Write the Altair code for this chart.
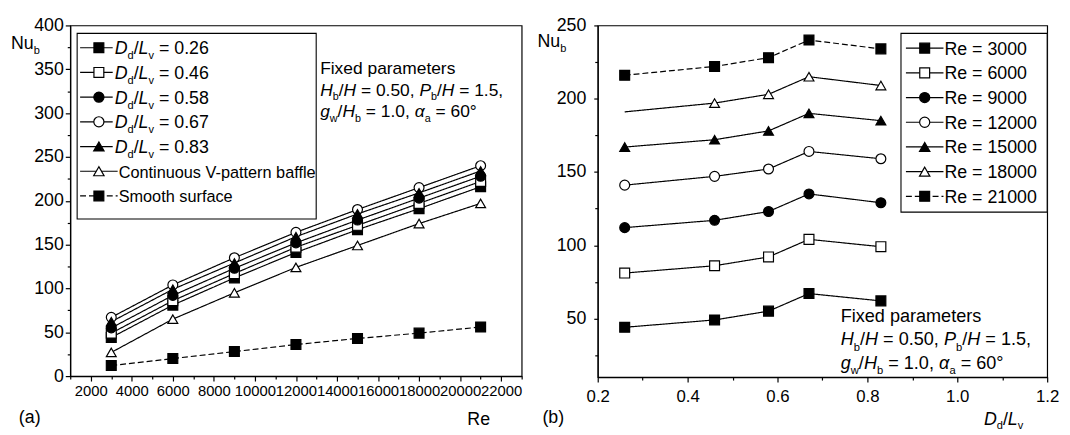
import altair as alt
import pandas as pd

FONT = "Liberation Sans"

# ---------------- data ----------------
re_values = [3000, 6000, 9000, 12000, 15000, 18000, 21000]
ddlv_values = [0.26, 0.46, 0.58, 0.67, 0.83]
ddlv_labels = ["0.26", "0.46", "0.58", "0.67", "0.83"]

# Nu_b versus Dd/Lv, one list per Reynolds number
nu_re3000 = [44, 49, 55, 67, 62]
nu_re6000 = [81, 86, 92, 104, 99]
nu_re9000 = [112, 117, 123, 135, 129]
nu_re12000 = [141, 147, 152, 164, 159]
nu_re15000 = [167, 172, 178, 190, 185]
nu_re18000 = [191, 197, 203, 215, 209]
nu_re21000 = [216, 222, 228, 240, 234]
re18000_marker_shown = [False, True, True, True, True]

continuous_vbaffle = [27, 65, 95, 124, 149, 174, 197]
smooth_surface = [12, 20, 28, 36, 43, 49, 56]

by_re = [nu_re3000, nu_re6000, nu_re9000, nu_re12000, nu_re15000, nu_re18000, nu_re21000]

# ---------------- styling tables ----------------
W = {' ': .278, '=': .584, '.': .278, ',': .278, '/': .278, '°': .4, '(': .333, ')': .333, '-': .333,
     'α': .58,
     'A': .667, 'B': .667, 'C': .722, 'D': .722, 'E': .667, 'F': .611, 'G': .778, 'H': .722, 'I': .278,
     'J': .5, 'K': .667, 'L': .556, 'M': .833, 'N': .722, 'O': .778, 'P': .667, 'Q': .778, 'R': .722,
     'S': .667, 'T': .611, 'U': .722, 'V': .667, 'W': .944, 'X': .667, 'Y': .667, 'Z': .611,
     'a': .556, 'b': .556, 'c': .5, 'd': .556, 'e': .556, 'f': .278, 'g': .556, 'h': .556, 'i': .222,
     'j': .222, 'k': .5, 'l': .222, 'm': .833, 'n': .556, 'o': .556, 'p': .556, 'q': .556, 'r': .333,
     's': .5, 't': .278, 'u': .556, 'v': .5, 'w': .722, 'x': .5, 'y': .5, 'z': .5}


def tw(s, size):
    return sum(W.get(c, 0.556) for c in s) * size


ANCHOR = pd.DataFrame({"a": [0]})


def rich(segs, x, y, size):
    layers = []
    cx = x
    for text, kind in segs:
        if kind == 's':
            fs = size * 0.62
            yy = y + size * 0.28
            style = 'normal'
        else:
            fs = size
            yy = y
            style = 'italic' if kind == 'i' else 'normal'
        stripped = text.lstrip(' ')
        cx += tw(text[:len(text) - len(stripped)], fs)
        if stripped:
            layers.append(
                alt.Chart(ANCHOR).mark_text(text=stripped, align='left', baseline='alphabetic', font=FONT,
                                            fontSize=fs, fontStyle=style, color='black')
                .encode(x=alt.value(cx), y=alt.value(yy)))
        cx += tw(stripped, fs)
    return layers


MSIZE = {'square': 100, 'circle': 105, 'triangle-up': 110}


def legend_row(x1, x2, xm, xt, yc, shape, fill, dash, segs, size):
    layers = [
        alt.Chart(ANCHOR).mark_rule(color='black', strokeWidth=1.2, strokeDash=dash)
        .encode(x=alt.value(x1), x2=alt.value(x2), y=alt.value(yc)),
        alt.Chart(ANCHOR).mark_point(shape=shape, filled=True, fill=fill, stroke='black', strokeWidth=1.2,
                                     size=MSIZE[shape], opacity=1)
        .encode(x=alt.value(xm), y=alt.value(yc)),
    ]
    layers += rich(segs, xt, yc + 6.5, size)
    return layers


def box(x1, x2, y1, y2):
    return alt.Chart(ANCHOR).mark_rect(fill='white', stroke='black', strokeWidth=1.1).encode(
        x=alt.value(x1), x2=alt.value(x2), y=alt.value(y1), y2=alt.value(y2))


SHAPES = ['square', 'square', 'circle', 'circle', 'triangle-up', 'triangle-up', 'square']
FILLS = ['black', 'white', 'black', 'white', 'black', 'white', 'black']
DASHES = [[1, 0]] * 6 + [[6, 3]]
SOLID = [1, 0]
DASHED = [6, 3]
SHAPE_SIZES = [MSIZE[s] for s in SHAPES]

LEG = 18
ANN = 18.3

fixed_lines = [
    [("Fixed parameters", 'n')],
    [("H", 'i'), ("b", 's'), ("/", 'n'), ("H", 'i'), (" = 0.50, ", 'n'), ("P", 'i'), ("b", 's'), ("/", 'n'),
     ("H", 'i'), (" = 1.5,", 'n')],
    [("g", 'i'), ("w", 's'), ("/", 'n'), ("H", 'i'), ("b", 's'), (" = 1.0, ", 'n'), ("α", 'i'), ("a", 's'),
     (" = 60°", 'n')],
]

# ---------------- left panel ----------------
LW, LH = 457, 355
left_names = ddlv_labels + ["cont", "smooth"]
rows = []
for j, name in enumerate(ddlv_labels):
    for i, r in enumerate(re_values):
        rows.append({"series": name, "Re": r, "Nu": by_re[i][j]})
for i, r in enumerate(re_values):
    rows.append({"series": "cont", "Re": r, "Nu": continuous_vbaffle[i]})
    rows.append({"series": "smooth", "Re": r, "Nu": smooth_surface[i]})
ldf = pd.DataFrame(rows)

lx = alt.X("Re:Q", scale=alt.Scale(domain=[1000, 23000], nice=False, zero=False),
           axis=alt.Axis(values=list(range(1000, 23001, 1000)), format="d",
                         labelExpr="datum.value % 2000 === 0 ? datum.label : ''",
                         tickSize={"condition": {"test": "datum.value % 2000 === 0", "value": 5}, "value": 3},
                         labelFontSize=15, labelPadding=3, title=None, labelOverlap=False, labelFlush=False))
ly = alt.Y("Nu:Q", scale=alt.Scale(domain=[0, 400], nice=False),
           axis=alt.Axis(values=list(range(0, 401, 25)),
                         labelExpr="datum.value % 50 === 0 ? datum.label : ''",
                         tickSize={"condition": {"test": "datum.value % 50 === 0", "value": 5}, "value": 3},
                         labelFontSize=18, labelPadding=2, title=None, labelOverlap=False, labelFlush=False))

lbase = alt.Chart(ldf)
l_lines = lbase.mark_line(color='black', strokeWidth=1.2).encode(
    x=lx, y=ly, detail="series:N",
    strokeDash=alt.StrokeDash("series:N", scale=alt.Scale(domain=left_names, range=DASHES), legend=None))
l_points = lbase.mark_point(filled=True, stroke='black', strokeWidth=1.2, opacity=1).encode(
    x=lx, y=ly,
    shape=alt.Shape("series:N", scale=alt.Scale(domain=left_names, range=SHAPES), legend=None),
    fill=alt.Fill("series:N", scale=alt.Scale(domain=left_names, range=FILLS), legend=None),
    size=alt.Size("series:N", scale=alt.Scale(domain=left_names, range=SHAPE_SIZES), legend=None))

l_layers = [l_lines, l_points, box(7, 249, 8, 196)]
for k in range(5):
    l_layers += legend_row(10, 43, 29, 45, 22.6 + 25 * k, SHAPES[k], FILLS[k], SOLID,
                           [("D", 'i'), ("d", 's'), ("/", 'n'), ("L", 'i'), ("v", 's'),
                            (" = " + ddlv_labels[k], 'n')], LEG)
l_layers += legend_row(10, 48, 29, 49, 22.6 + 25 * 5, 'triangle-up', 'white', SOLID,
                       [("Continuous V-pattern baffle", 'n')], 16.5)
l_layers += legend_row(10, 48, 29, 49, 22.6 + 25 * 6, 'square', 'black', DASHED,
                       [("Smooth surface", 'n')], 16.5)
for segs, yb in zip(fixed_lines, [49, 71, 93]):
    l_layers += rich(segs, 253, yb, 17.6)
l_layers += rich([("Nu", 'n'), ("b", 's')], -60, 24, 18)
l_layers += rich([("(a)", 'n')], -52, 402, 18)
l_layers += rich([("Re", 'n')], 402, 405, 18)

left = alt.layer(*l_layers).properties(width=LW, height=LH)

# ---------------- right panel ----------------
RW, RH = 455, 356
right_names = [str(r) for r in re_values]
rows = []
for i, r in enumerate(re_values):
    for j, d in enumerate(ddlv_values):
        shown = re18000_marker_shown[j] if r == 18000 else True
        rows.append({"series": str(r), "D": d, "Nu": by_re[i][j], "shown": shown})
rdf = pd.DataFrame(rows)

rx = alt.X("D:Q", scale=alt.Scale(domain=[0.2, 1.2], nice=False, zero=False),
           axis=alt.Axis(values=[0.2, 0.3, 0.4, 0.5, 0.6, 0.7, 0.8, 0.9, 1.0, 1.1, 1.2], format=".1f",
                         labelExpr="round(datum.value * 10) % 2 === 0 ? datum.label : ''",
                         tickSize={"condition": {"test": "round(datum.value * 10) % 2 === 0", "value": 5},
                                   "value": 3},
                         labelFontSize=17, labelPadding=7, title=None, labelOverlap=False, labelFlush=False))
ry = alt.Y("Nu:Q", scale=alt.Scale(domain=[10, 250], nice=False, zero=False),
           axis=alt.Axis(values=list(range(25, 251, 25)),
                         labelExpr="datum.value % 50 === 0 ? datum.label : ''",
                         tickSize={"condition": {"test": "datum.value % 50 === 0", "value": 4}, "value": 3},
                         labelFontSize=18, labelPadding=8, title=None, labelOverlap=False, labelFlush=False))

rbase = alt.Chart(rdf)
r_lines = rbase.mark_line(color='black', strokeWidth=1.2).encode(
    x=rx, y=ry, detail="series:N",
    strokeDash=alt.StrokeDash("series:N", scale=alt.Scale(domain=right_names, range=DASHES), legend=None))
r_points = rbase.transform_filter("datum.shown").mark_point(
    filled=True, stroke='black', strokeWidth=1.2, opacity=1).encode(
    x=rx, y=ry,
    shape=alt.Shape("series:N", scale=alt.Scale(domain=right_names, range=SHAPES), legend=None),
    fill=alt.Fill("series:N", scale=alt.Scale(domain=right_names, range=FILLS), legend=None),
    size=alt.Size("series:N", scale=alt.Scale(domain=right_names, range=SHAPE_SIZES), legend=None))

r_layers = [r_lines, r_points, box(RW - 148, RW, 8, 189)]
for k, r in enumerate(re_values):
    r_layers += legend_row(RW - 143, RW - 105, RW - 124, RW - 104, 23 + 25 * k, SHAPES[k], FILLS[k],
                           DASHES[k], [("Re = " + str(r), 'n')], LEG)
for segs, yb in zip(fixed_lines, [300, 324, 348]):
    r_layers += rich(segs, 246, yb, ANN)
r_layers += rich([("Nu", 'n'), ("b", 's')], -61, 22, 18)
r_layers += rich([("(b)", 'n')], -56, 402, 18)
r_layers += rich([("D", 'i'), ("d", 's'), ("/", 'n'), ("L", 'i'), ("v", 's')], 391, 404, 18)

right = alt.layer(*r_layers).properties(width=RW, height=RH)

chart = alt.hconcat(left, right, spacing=13).properties(
    padding={"left": 2, "top": 5, "right": 2, "bottom": 2}
).configure_view(stroke='black', strokeWidth=1.2).configure_axis(
    domainColor='black', tickColor='black', labelColor='black', labelFont=FONT,
    domainWidth=1.2, tickWidth=1.2, grid=False)

chart.save("out.html", embed_options={"renderer": "svg", "actions": False})
